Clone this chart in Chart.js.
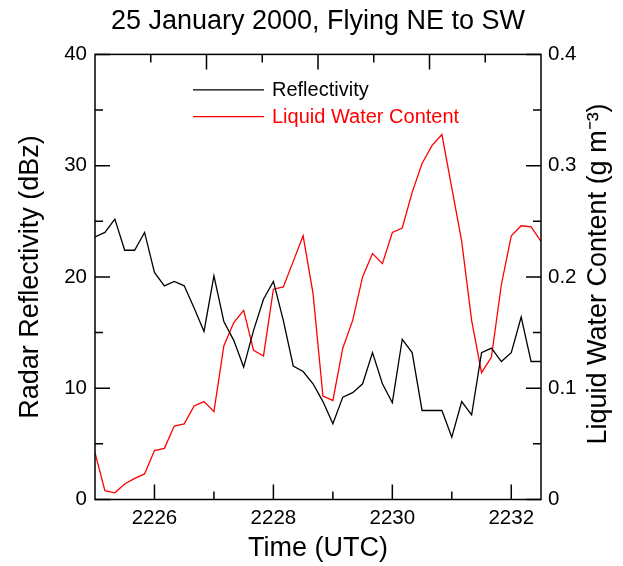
<!DOCTYPE html>
<html lang="en">
<head>
  <meta charset="UTF-8">
  <title>25 January 2000 flight</title>
  <style>
    body {
      margin: 0;
      background: white;
    }
    canvas {
      display: block;
    }
  </style>
</head>
<body>
  <canvas id="chart" width="623" height="566"></canvas>

  <script src="https://cdn.jsdelivr.net/npm/chart.js"></script>
  <script>
    // seconds after 22:25:00 UTC, one sample every 10 s
    const seconds = [0, 10, 20, 30, 40, 50, 60, 70, 80, 90, 100, 110, 120, 130, 140, 150,
      160, 170, 180, 190, 200, 210, 220, 230, 240, 250, 260, 270, 280, 290, 300, 310,
      320, 330, 340, 350, 360, 370, 380, 390, 400, 410, 420, 430, 440, 450];

    // radar reflectivity, dBz
    const reflectivity = [23.6, 24.0, 25.2, 22.4, 22.4, 24.0, 20.4, 19.2, 19.6, 19.2, 17.2, 15.1,
      20.1, 16.0, 14.3, 11.9, 15.2, 18.0, 19.6, 16.1, 12.0, 11.5, 10.4, 8.8,
      6.8, 9.2, 9.6, 10.4, 13.2, 10.4, 8.7, 14.4, 13.2, 8.0, 8.0, 8.0,
      5.6, 8.8, 7.6, 13.2, 13.6, 12.4, 13.2, 16.4, 12.4, 12.4];

    // liquid water content, g m-3
    const lwc = [0.042, 0.008, 0.006, 0.014, 0.019, 0.023, 0.044, 0.046, 0.066, 0.068, 0.084, 0.088,
      0.079, 0.138, 0.159, 0.170, 0.134, 0.129, 0.189, 0.191, 0.214, 0.237, 0.185, 0.093,
      0.089, 0.136, 0.161, 0.200, 0.221, 0.212, 0.240, 0.244, 0.276, 0.302, 0.318, 0.328,
      0.280, 0.232, 0.161, 0.114, 0.128, 0.193, 0.237, 0.246, 0.245, 0.232];

    // tick positions
    const timeMajor = [2226, 2228, 2230, 2232];
    const timeMinor = [2227, 2229, 2231];
    const reflMajor = [0, 10, 20, 30, 40];
    const reflMinor = [5, 15, 25, 35];
    const lwcMajor = [0, 0.1, 0.2, 0.3, 0.4];
    const lwcMinor = [0.05, 0.15, 0.25, 0.35];
    const topMajor = [2, 4, 6];
    const topMinor = [1, 3, 5, 7];

    const lwcTitle = 'Liquid Water Content (g m\u207B\u00B3)';

    const FONT = '"Liberation Sans", Arial, Helvetica, sans-serif';
    const toTime = s => 2225 + s / 60;

    const fixedTicks = values => scale => {
      scale.ticks = values.map(v => ({ value: v }));
    };

    // frame, inward tick marks, legend and the right-hand axis title
    const framePlugin = {
      id: 'frame',
      afterDatasetsDraw(chart) {
        const { ctx, chartArea: a, scales } = chart;
        const LONG = 15, SHORT = 8;
        ctx.save();
        ctx.strokeStyle = '#000';
        ctx.lineWidth = 1.5;
        ctx.strokeRect(a.left, a.top, a.right - a.left, a.bottom - a.top);

        ctx.beginPath();
        const vTick = (scale, vals, len) => vals.forEach(v => {
          const px = scale.getPixelForValue(v);
          ctx.moveTo(px, a.bottom); ctx.lineTo(px, a.bottom - len);
        });
        const topTick = (scale, vals, len) => vals.forEach(v => {
          const px = scale.getPixelForValue(v);
          ctx.moveTo(px, a.top); ctx.lineTo(px, a.top + len);
        });
        const hTick = (scale, vals, len, fromRight) => vals.forEach(v => {
          const py = scale.getPixelForValue(v);
          if (fromRight) { ctx.moveTo(a.right, py); ctx.lineTo(a.right - len, py); }
          else { ctx.moveTo(a.left, py); ctx.lineTo(a.left + len, py); }
        });
        vTick(scales.x, timeMajor, LONG);
        vTick(scales.x, timeMinor, SHORT);
        topTick(scales.x2, topMajor, LONG);
        topTick(scales.x2, topMinor, SHORT);
        hTick(scales.y, reflMajor, LONG, false);
        hTick(scales.y, reflMinor, SHORT, false);
        hTick(scales.y2, lwcMajor, LONG, true);
        hTick(scales.y2, lwcMinor, SHORT, true);
        ctx.stroke();

        // legend
        ctx.font = '20px ' + FONT;
        ctx.textBaseline = 'middle';
        ctx.textAlign = 'left';
        chart.data.datasets.forEach((ds, i) => {
          const y = a.top + 35.5 + i * 26.7;
          ctx.strokeStyle = ds.borderColor;
          ctx.lineWidth = 1.3;
          ctx.beginPath();
          ctx.moveTo(a.left + 98, y);
          ctx.lineTo(a.left + 169, y);
          ctx.stroke();
          ctx.fillStyle = ds.borderColor;
          ctx.fillText(ds.label, a.left + 177, y + 1);
        });

        // right axis title, reading bottom to top like the left one
        ctx.fillStyle = '#000';
        ctx.font = '27px ' + FONT;
        ctx.textAlign = 'center';
        ctx.translate(scales.y2.right - 24, (a.top + a.bottom) / 2 - 3);
        ctx.rotate(-Math.PI / 2);
        ctx.fillText(lwcTitle, 0, 0);
        ctx.restore();
      }
    };

    Chart.defaults.font.family = FONT;
    Chart.defaults.color = '#000';

    const ctx = document.getElementById('chart').getContext('2d');
    new Chart(ctx, {
      type: 'line',
      data: {
        datasets: [{
          label: 'Reflectivity',
          data: seconds.map((s, i) => ({ x: toTime(s), y: reflectivity[i] })),
          borderColor: '#000000',
          borderWidth: 1.3,
          yAxisID: 'y'
        }, {
          label: 'Liquid Water Content',
          data: seconds.map((s, i) => ({ x: toTime(s), y: lwc[i] })),
          borderColor: '#ff0000',
          borderWidth: 1.3,
          yAxisID: 'y2'
        }]
      },
      options: {
        responsive: false,
        animation: false,
        elements: {
          point: { radius: 0 },
          line: { tension: 0 }
        },
        layout: { padding: 0 },
        plugins: {
          legend: { display: false },
          tooltip: { enabled: false },
          title: {
            display: true,
            fullSize: false,
            text: '25 January 2000, Flying NE to SW',
            font: { size: 27, weight: 'normal' },
            color: '#000',
            padding: { top: 5, bottom: 17 }
          }
        },
        scales: {
          x: {
            type: 'linear',
            position: 'bottom',
            min: 2225,
            max: 2232.5,
            afterBuildTicks: fixedTicks(timeMajor),
            afterFit: s => { s.height = 66.5; },
            grid: { display: false, drawTicks: false },
            border: { display: false },
            ticks: { font: { size: 20.5 }, padding: 7, callback: v => String(v) },
            title: {
              display: true,
              text: 'Time (UTC)',
              font: { size: 27 },
              padding: { top: 0, bottom: 1 }
            }
          },
          x2: {
            type: 'linear',
            position: 'top',
            display: false,
            min: 0,
            max: 8
          },
          y: {
            type: 'linear',
            position: 'left',
            min: 0,
            max: 40,
            afterBuildTicks: fixedTicks(reflMajor),
            afterFit: s => { s.width = 95; },
            grid: { display: false, drawTicks: false },
            border: { display: false },
            ticks: { font: { size: 20.5 }, padding: 8 },
            title: {
              display: true,
              text: 'Radar Reflectivity (dBz)',
              font: { size: 27 },
              padding: { top: 14, bottom: 0 }
            }
          },
          y2: {
            type: 'linear',
            position: 'right',
            min: 0,
            max: 0.4,
            afterBuildTicks: fixedTicks(lwcMajor),
            afterFit: s => { s.width = 82; },
            grid: { display: false, drawTicks: false },
            border: { display: false },
            ticks: { font: { size: 20.5 }, padding: 7, callback: v => String(v) },
            title: { display: false }
          }
        }
      },
      plugins: [framePlugin]
    });
  </script>
</body>
</html>
